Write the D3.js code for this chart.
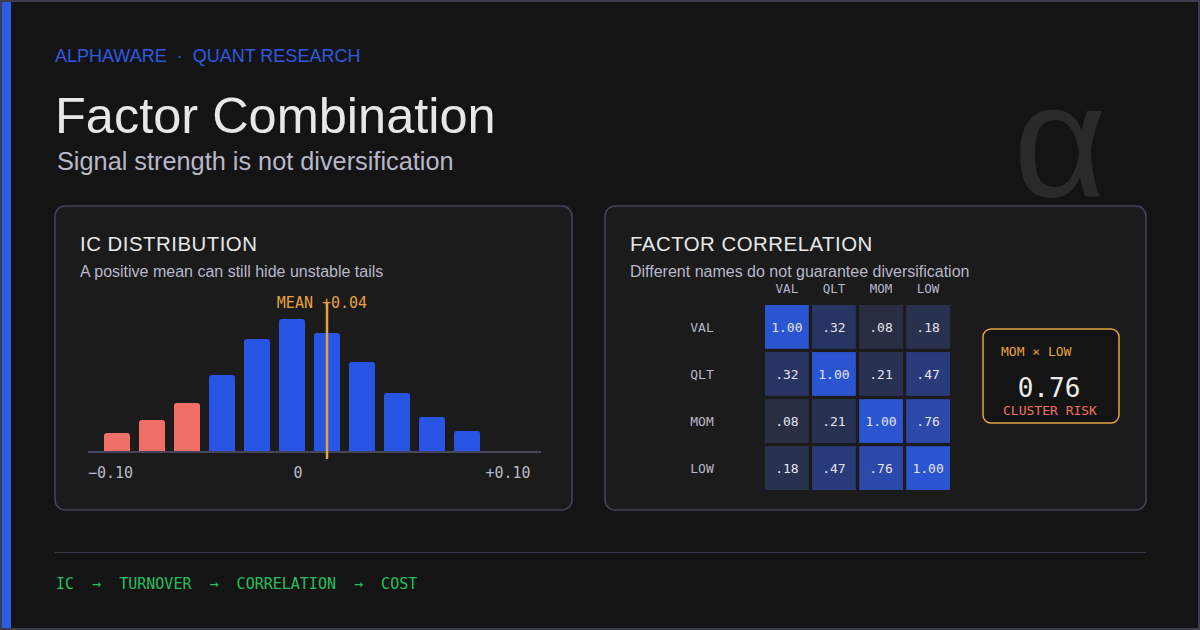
<!DOCTYPE html>
<html><head><meta charset="utf-8">
<script src="https://cdn.jsdelivr.net/npm/d3@7/dist/d3.min.js"></script>
<style>
html,body{margin:0;padding:0;background:#141414;}
svg{display:block;}
</style></head>
<body>
<svg id="c" width="1200" height="630"></svg>
<script>
// ---- data ----
const icBins = [-0.08, -0.06, -0.04, -0.02, 0.00, 0.02, 0.04, 0.06, 0.08, 0.10, 0.12];
const icFreq = [3.8, 6.4, 9.8, 15.4, 22.6, 26.6, 23.8, 18.0, 11.8, 7.0, 4.2];
const icMean = 0.04;
const tailCut = -0.03;
const icTicks = [-0.10, 0, 0.10];
const icTickLabels = ["\u22120.10", "0", "+0.10"];
const factors = ["VAL", "QLT", "MOM", "LOW"];
const corr = [
  [1.00, 0.32, 0.08, 0.18],
  [0.32, 1.00, 0.21, 0.47],
  [0.08, 0.21, 1.00, 0.76],
  [0.18, 0.47, 0.76, 1.00]
];
const highlightPair = ["MOM", "LOW"];
const pipeline = ["IC", "TURNOVER", "CORRELATION", "COST"];

// ---- styles ----
const SANS = "'Liberation Sans', Arial, sans-serif";
const MONO = "'DejaVu Sans Mono', monospace";
const svg = d3.select("#c");

// background + frame
svg.append("rect").attr("x",0).attr("y",0).attr("width",1200).attr("height",630).attr("fill","#141414");
svg.append("rect").attr("x",1).attr("y",1).attr("width",1198).attr("height",628).attr("fill","none").attr("stroke","#3c3d4c").attr("stroke-width",2);
svg.append("rect").attr("x",2).attr("y",2).attr("width",9).attr("height",626).attr("fill","#2b5ce6");

// alpha watermark
svg.append("text").attr("x",1107).attr("y",196).attr("text-anchor","end")
  .attr("font-family",SANS).attr("font-size",162).attr("fill","#2a2a2a").text("\u03B1");

// header
svg.append("text").attr("x",55).attr("y",62).attr("font-family",SANS).attr("font-size",18)
  .attr("fill","#2f5ae0").attr("xml:space","preserve").style("white-space","pre")
  .text("ALPHAWARE  \u00B7  QUANT RESEARCH");
svg.append("text").attr("x",55).attr("y",133).attr("font-family",SANS).attr("font-size",50.5)
  .attr("fill","#e8e6e6").text("Factor Combination");
svg.append("text").attr("x",57).attr("y",170).attr("font-family",SANS).attr("font-size",25.3)
  .attr("fill","#b8b8c8").text("Signal strength is not diversification");

// panels
function panel(x, y, w, h, title, sub) {
  svg.append("rect").attr("x",x).attr("y",y).attr("width",w).attr("height",h).attr("rx",10)
    .attr("fill","#1b1b1b").attr("stroke","#44455a").attr("stroke-width",1.5);
  svg.append("text").attr("x",x+25).attr("y",y+45).attr("font-family",SANS).attr("font-size",20.4)
    .attr("letter-spacing",0.5).attr("fill","#e8e8e8").text(title);
  svg.append("text").attr("x",x+25).attr("y",y+71).attr("font-family",SANS).attr("font-size",16)
    .attr("fill","#b8b8c8").text(sub);
}
panel(55, 206, 517, 304, "IC DISTRIBUTION", "A positive mean can still hide unstable tails");
panel(605, 206, 541, 304, "FACTOR CORRELATION", "Different names do not guarantee diversification");

// ---- histogram ----
const x = d3.scaleLinear().domain([-0.08, 0.12]).range([117, 467]);
const y = d3.scaleLinear().domain([0, 30]).range([452, 302]);
const bw = 26, r = 3;
const g1 = svg.append("g");
g1.selectAll("path.bar").data(icBins).join("path").attr("class","bar")
  .attr("fill", (d) => d < tailCut ? "#f07068" : "#2855e3")
  .attr("d", (d, i) => {
    const x0 = x(d) - bw/2, x1 = x(d) + bw/2, yt = y(icFreq[i]), yb = y(0);
    return `M${x0},${yb}V${yt+r}Q${x0},${yt} ${x0+r},${yt}H${x1-r}Q${x1},${yt} ${x1},${yt+r}V${yb}Z`;
  });
// baseline
g1.append("line").attr("x1",88).attr("x2",541).attr("y1",y(0)).attr("y2",y(0))
  .attr("stroke","#44455a").attr("stroke-width",2);
// tick labels
const tx = d3.scaleLinear().domain([-0.10, 0.10]).range([88, 508]);
g1.selectAll("text.tick").data(icTicks).join("text").attr("class","tick")
  .attr("x", d => tx(d)).attr("y", 478)
  .attr("text-anchor", (d, i) => i === 0 ? "start" : "middle")
  .attr("font-family",MONO).attr("font-size",15).attr("fill","#b8b8c8")
  .text((d, i) => icTickLabels[i]);
// mean
g1.append("text").attr("x", x(icMean) - 5).attr("y", 308).attr("text-anchor","middle")
  .attr("font-family",MONO).attr("font-size",15).attr("fill","#e8a23c")
  .text("MEAN +" + icMean.toFixed(2));
g1.append("line").attr("x1",x(icMean)).attr("x2",x(icMean)).attr("y1",303).attr("y2",459)
  .attr("stroke","#e8a23c").attr("stroke-width",2.5);

// ---- correlation matrix ----
const cx = d3.scaleBand().domain(factors).range([765, 950]).paddingInner(0.07);
const cy = d3.scaleBand().domain(factors).range([305, 490]).paddingInner(0.07);
const col = d3.scaleLinear().domain([0, 0.32, 1]).range(["#2a2c37", "#283462", "#2b55d0"]).interpolate(d3.interpolateRgb);
const cells = [];
factors.forEach((a, i) => factors.forEach((b, j) => cells.push({a, b, v: corr[i][j]})));
const g2 = svg.append("g");
g2.selectAll("rect.cell").data(cells).join("rect").attr("class","cell")
  .attr("x", d => cx(d.b)).attr("y", d => cy(d.a))
  .attr("width", cx.bandwidth()).attr("height", cy.bandwidth())
  .attr("fill", d => col(d.v));
g2.selectAll("text.val").data(cells).join("text").attr("class","val")
  .attr("x", d => cx(d.b) + cx.bandwidth()/2).attr("y", d => cy(d.a) + cy.bandwidth()/2)
  .attr("dy","0.36em").attr("text-anchor","middle")
  .attr("font-family",MONO).attr("font-size",13).attr("fill","#e4e4f0")
  .text(d => d.v === 1 ? "1.00" : d3.format(".2f")(d.v).replace(/^0/, ""));
g2.selectAll("text.colh").data(factors).join("text").attr("class","colh")
  .attr("x", d => cx(d) + cx.bandwidth()/2).attr("y", 293).attr("text-anchor","middle")
  .attr("font-family",MONO).attr("font-size",12.5).attr("fill","#b8b8c8").text(d => d);
g2.selectAll("text.rowh").data(factors).join("text").attr("class","rowh")
  .attr("x", 702).attr("y", d => cy(d) + cy.bandwidth()/2).attr("dy","0.36em").attr("text-anchor","middle")
  .attr("font-family",MONO).attr("font-size",13).attr("fill","#b8b8c8").text(d => d);

// callout
const hv = corr[factors.indexOf(highlightPair[0])][factors.indexOf(highlightPair[1])];
svg.append("rect").attr("x",983).attr("y",329).attr("width",136).attr("height",94).attr("rx",8)
  .attr("fill","#141414").attr("stroke","#e8a23c").attr("stroke-width",1.5);
svg.append("text").attr("x",1001).attr("y",356).attr("font-family",MONO).attr("font-size",13)
  .attr("fill","#e8a23c").text(highlightPair[0] + " \u00D7 " + highlightPair[1]);
svg.append("text").attr("x",1049).attr("y",397).attr("text-anchor","middle").attr("font-family",MONO)
  .attr("font-size",26).attr("fill","#ececec").text(hv.toFixed(2));
svg.append("text").attr("x",1050).attr("y",415).attr("text-anchor","middle").attr("font-family",MONO)
  .attr("font-size",13).attr("fill","#f07060").text("CLUSTER RISK");

// footer
svg.append("line").attr("x1",55).attr("x2",1146).attr("y1",552.5).attr("y2",552.5)
  .attr("stroke","#3c3c4c").attr("stroke-width",1.2);
svg.append("text").attr("x",56).attr("y",589).attr("font-family",MONO).attr("font-size",15)
  .attr("fill","#22c060").attr("xml:space","preserve").style("white-space","pre")
  .text(pipeline.join("  \u2192  "));
</script>
</body></html>
